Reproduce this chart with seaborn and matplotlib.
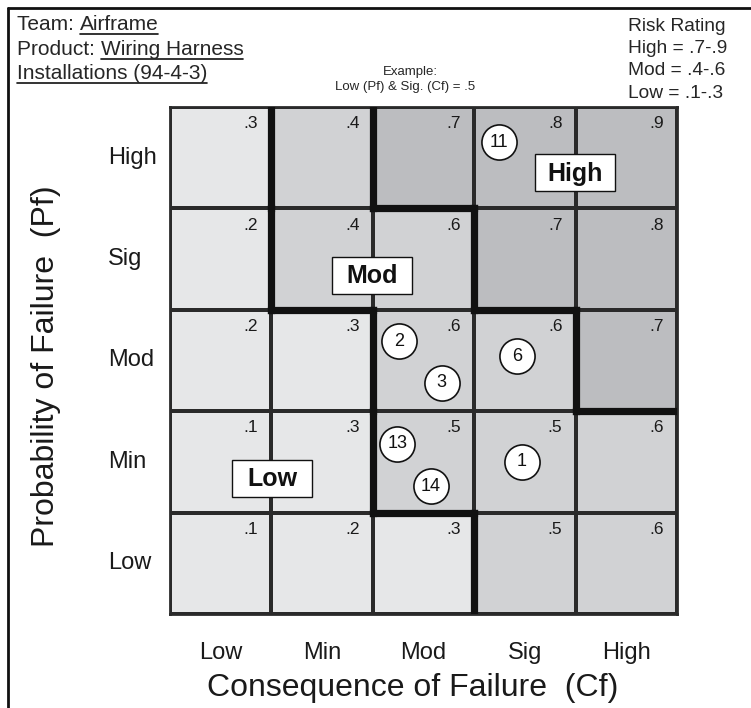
import numpy as np
import pandas as pd
import matplotlib.pyplot as plt
import seaborn as sns
from matplotlib.colors import ListedColormap, BoundaryNorm
from matplotlib.lines import Line2D
from matplotlib.patches import Rectangle

# Risk matrix data (rows: Pf from High to Low, columns: Cf from Low to High)
pf_levels = ["High", "Sig", "Mod", "Min", "Low"]
cf_levels = ["Low", "Min", "Mod", "Sig", "High"]
risk_values = [
    [0.3, 0.4, 0.7, 0.8, 0.9],
    [0.2, 0.4, 0.6, 0.7, 0.8],
    [0.2, 0.3, 0.6, 0.6, 0.7],
    [0.1, 0.3, 0.5, 0.5, 0.6],
    [0.1, 0.2, 0.3, 0.5, 0.6],
]
# Risk items placed on the matrix (cell-unit coordinates, x from left, y from top)
item_ids = ["11", "2", "3", "6", "13", "14", "1"]
item_x = [3.24, 2.26, 2.68, 3.42, 2.24, 2.57, 3.47]
item_y = [0.35, 2.31, 2.72, 2.46, 3.32, 3.74, 3.50]
# Region labels
zone_names = ["High", "Mod", "Low"]
zone_x = [3.99, 1.99, 1.01]
zone_y = [0.65, 1.66, 3.66]

rating_bounds = [0.05, 0.35, 0.65, 0.95]
rating_colors = ["#e6e7e8", "#d1d2d4", "#bcbdc0"]

sns.set_style("white")
plt.rcParams['font.family'] = ['Liberation Sans', 'DejaVu Sans']

df = pd.DataFrame(risk_values, index=pf_levels, columns=cf_levels)
cats = np.digitize(df.values, rating_bounds[1:-1])

W, H = 751, 708
fig = plt.figure(figsize=(W / 100, H / 100), dpi=100)
gx0, gy0, gsize = 170, 107, 507
cell = gsize / 5
ax = fig.add_axes([gx0 / W, 1 - (gy0 + gsize) / H, gsize / W, gsize / H])

sns.heatmap(df, ax=ax, cmap=ListedColormap(rating_colors),
            norm=BoundaryNorm(rating_bounds, 3), cbar=False,
            linewidths=1.7, linecolor="#2a2a2a", square=False)

for sp in ax.spines.values():
    sp.set_visible(True)
    sp.set_linewidth(2)
    sp.set_color("#2a2a2a")

# cell values in the upper right corner
for i in range(len(pf_levels)):
    for j in range(len(cf_levels)):
        txt = ("%.1f" % df.iloc[i, j]).lstrip("0")
        ax.text(j + 0.87, i + 0.09, txt, ha="right", va="top", fontsize=12.5, color="#1a1a1a")

# thick boundaries between rating zones
n = len(pf_levels)
for i in range(n):
    for j in range(n):
        if j + 1 < n and cats[i, j] != cats[i, j + 1]:
            ax.plot([j + 1, j + 1], [i, i + 1], color="#111111", lw=5.2,
                    solid_capstyle="projecting", zorder=3)
        if i + 1 < n and cats[i, j] != cats[i + 1, j]:
            ax.plot([j, j + 1], [i + 1, i + 1], color="#111111", lw=5.2,
                    solid_capstyle="projecting", zorder=3)

# numbered risk items
ax.scatter(item_x, item_y, s=640, facecolor="white", edgecolor="#111111", linewidth=1.2, zorder=4)
for lab, x, y in zip(item_ids, item_x, item_y):
    ax.text(x, y, lab, ha="center", va="center", fontsize=13, zorder=5, color="#111111")

# zone label boxes
bw, bh = 80 / cell, 37 / cell
for lab, x, y in zip(zone_names, zone_x, zone_y):
    ax.add_patch(Rectangle((x - bw / 2, y - bh / 2), bw, bh, facecolor="white",
                           edgecolor="#111111", linewidth=1, zorder=5))
    ax.text(x, y + 0.01, lab, ha="center", va="center", fontsize=18, fontweight="bold", zorder=6,
            color="#111111")

ax.set_xlabel("")
ax.set_ylabel("")
ax.tick_params(axis="both", length=0, labelsize=17, labelcolor="#1a1a1a")
ax.tick_params(axis="x", pad=20)
ax.tick_params(axis="y", pad=44.5)
for t in ax.get_yticklabels():
    t.set_rotation(0)
    t.set_ha("left")

fig.text(413 / W, 1 - 688 / H, "Consequence of Failure  (Cf)", ha="center", va="center",
         fontsize=23, color="#1a1a1a")
fig.text(46 / W, 1 - 366 / H, "Probability of Failure  (Pf)", ha="center", va="center",
         rotation=90, fontsize=23, color="#1a1a1a")

# header
hdr = 15
hx = 17 / W
fig.text(hx, 1 - 30 / H, "Team: ", fontsize=hdr, va="baseline")
fig.text(hx, 1 - 55 / H, "Product: ", fontsize=hdr, va="baseline")
t_inst = fig.text(hx, 1 - 79 / H, "Installations (94-4-3)", fontsize=hdr, va="baseline")
fig.canvas.draw()
r = fig.canvas.get_renderer()
underlined = [t_inst]
for prefix, value, yy in [("Team: ", "Airframe", 30), ("Product: ", "Wiring Harness", 55)]:
    probe = fig.text(hx, 1 - yy / H, prefix, fontsize=hdr, va="baseline")
    bb = probe.get_window_extent(r)
    probe.remove()
    underlined.append(fig.text(bb.x1 / W, 1 - yy / H, value, fontsize=hdr, va="baseline"))
fig.canvas.draw()
for t, yy in zip(underlined, [79, 30, 55]):
    bb = t.get_window_extent(r)
    yline = 1 - (yy + 4) / H
    fig.add_artist(Line2D([bb.x0 / W, bb.x1 / W], [yline, yline], color="#111111", lw=1.2))

rx = 628 / W
for yy, s in [(31, "Risk Rating"), (53, "High = .7-.9"), (75, "Mod = .4-.6"), (98, "Low = .1-.3")]:
    fig.text(rx, 1 - yy / H, s, fontsize=13.8, va="baseline")

fig.text(410 / W, 1 - 72 / H, "Example:", fontsize=9.5, ha="center", va="center")
fig.text(405 / W, 1 - 87 / H, "Low (Pf) & Sig. (Cf) = .5", fontsize=9.5, ha="center", va="center")

# outer frame (top and left edges)
fig.add_artist(Line2D([8 / W, 1], [1 - 8 / H, 1 - 8 / H], color="#111111", lw=2))
fig.add_artist(Line2D([8 / W, 8 / W], [0, 1 - 8 / H], color="#111111", lw=2))

fig.savefig("out.png", dpi=100)
